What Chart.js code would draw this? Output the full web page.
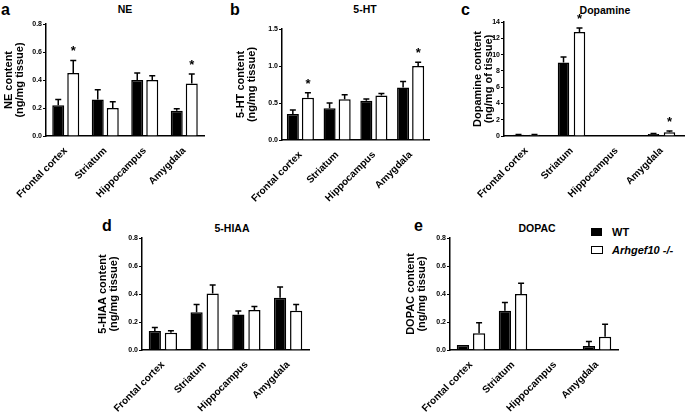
<!DOCTYPE html>
<html>
<head>
<meta charset="utf-8">
<script src="https://cdn.jsdelivr.net/npm/chart.js@4.4.1/dist/chart.umd.min.js"></script>
<style>
  html, body { margin: 0; padding: 0; background: #fff; overflow: hidden; }
  body { width: 685px; height: 412px; position: relative; font-family: "Liberation Sans", Arial, sans-serif; }
  canvas { position: absolute; }
  .lbl { position: absolute; font-weight: bold; color: #000; white-space: nowrap; line-height: 1; }
  .ttl { font-size: 10.5px; transform: translate(-50%, -50%); }
  .let { font-size: 16px; }
  .box { position: absolute; width: 11px; height: 8px; border: 1.5px solid #000; box-sizing: border-box; }
</style>
</head>
<body>
<div class="lbl let" style="left:1px;top:2px">a</div>
<div class="lbl let" style="left:230px;top:2px">b</div>
<div class="lbl let" style="left:461px;top:2px">c</div>
<div class="lbl let" style="left:102px;top:218px">d</div>
<div class="lbl let" style="left:414px;top:218px">e</div>

<div class="lbl ttl" style="left:125px;top:9px">NE</div>
<div class="lbl ttl" style="left:365px;top:9px">5-HT</div>
<div class="lbl ttl" style="left:605px;top:10px">Dopamine</div>
<div class="lbl ttl" style="left:232px;top:228px">5-HIAA</div>
<div class="lbl ttl" style="left:537px;top:228px">DOPAC</div>

<div class="box" style="left:591px;top:228px;background:#000"></div>
<div class="box" style="left:591px;top:246px;background:#fff;width:12px"></div>
<div class="lbl" style="left:612px;top:227px;font-size:11px">WT</div>
<div class="lbl" style="left:612px;top:245px;font-size:11px"><i>Arhgef10 -/-</i></div>

<canvas id="cNE" width="203" height="205" style="left:2px;top:0"></canvas>
<canvas id="c5HT" width="196" height="205" style="left:234px;top:0"></canvas>
<canvas id="cDA" width="214" height="205" style="left:471px;top:0"></canvas>
<canvas id="c5HIAA" width="214" height="212" style="left:96px;top:200px"></canvas>
<canvas id="cDOPAC" width="215" height="212" style="left:404px;top:200px"></canvas>

<script>
const regions = ["Frontal cortex", "Striatum", "Hippocampus", "Amygdala"];

// NE
const neWT = [0.22, 0.26, 0.40, 0.18];
const neWTErr = [0.04, 0.07, 0.05, 0.015];
const neKO = [0.45, 0.20, 0.40, 0.375];
const neKOErr = [0.09, 0.045, 0.03, 0.068];
const neStar = [true, false, false, true];

// 5-HT
const htWT = [0.35, 0.43, 0.53, 0.71];
const htWTErr = [0.055, 0.07, 0.025, 0.08];
const htKO = [0.57, 0.55, 0.60, 1.0];
const htKOErr = [0.07, 0.06, 0.03, 0.05];
const htStar = [true, false, false, true];

// Dopamine
const daWT = [0.15, 9.03, null, 0.25];
const daWTErr = [0.03, 0.66, null, 0.05];
const daKO = [0.15, 12.77, null, 0.45];
const daKOErr = [0.03, 0.5, null, 0.15];
const daStar = [false, true, false, true];

// 5-HIAA
const hiaaWT = [0.135, 0.27, 0.254, 0.373];
const hiaaWTErr = [0.025, 0.055, 0.024, 0.077];
const hiaaKO = [0.123, 0.404, 0.285, 0.28];
const hiaaKOErr = [0.015, 0.06, 0.025, 0.045];
const hiaaStar = [false, false, false, false];

// DOPAC
const dopacWT = [0.036, 0.28, null, 0.029];
const dopacWTErr = [0, 0.06, null, 0.031];
const dopacKO = [0.12, 0.40, null, 0.095];
const dopacKOErr = [0.075, 0.077, null, 0.089];
const dopacStar = [false, false, false, false];

const FONT = "'Liberation Sans', Arial, sans-serif";

// error bars (upper only) and significance stars
const errorBars = {
  id: "errorBars",
  afterDatasetsDraw(chart) {
    const ctx = chart.ctx;
    const y = chart.scales.y;
    ctx.save();
    ctx.strokeStyle = "#000";
    ctx.lineWidth = 1.5;
    chart.data.datasets.forEach((ds, di) => {
      const meta = chart.getDatasetMeta(di);
      meta.data.forEach((bar, i) => {
        const v = ds.data[i], e = ds.err[i];
        if (v == null) return;
        const top = y.getPixelForValue(v + (e || 0));
        if (e) {
          ctx.beginPath();
          ctx.moveTo(bar.x, y.getPixelForValue(v));
          ctx.lineTo(bar.x, top);
          ctx.moveTo(bar.x - 3, top);
          ctx.lineTo(bar.x + 3, top);
          ctx.stroke();
        }
        if (ds.star && ds.star[i]) {
          ctx.fillStyle = "#000";
          ctx.font = "bold 13px " + FONT;
          ctx.textAlign = "center";
          ctx.textBaseline = "alphabetic";
          ctx.fillText("*", bar.x, top - 5);
        }
      });
    });
    ctx.restore();
  }
};

function panel(id, opt) {
  new Chart(document.getElementById(id), {
    type: "bar",
    data: {
      labels: regions,
      datasets: [
        { label: "WT", data: opt.wt, err: opt.wtErr, backgroundColor: "#000", borderColor: "#000", borderWidth: 1.5 },
        { label: "Arhgef10 -/-", data: opt.ko, err: opt.koErr, star: opt.star, backgroundColor: "#fff", borderColor: "#000", borderWidth: 1.5 }
      ]
    },
    options: {
      responsive: false,
      animation: false,
      devicePixelRatio: 1,
      categoryPercentage: opt.cat,
      barPercentage: opt.bar,
      layout: { padding: { top: opt.padTop, right: 1, left: 0, bottom: 0 } },
      plugins: { legend: { display: false }, tooltip: { enabled: false } },
      scales: {
        x: {
          grid: { display: false },
          border: { display: true, color: "#000", width: 1.5 },
          ticks: {
            color: "#000", autoSkip: false, minRotation: 45, maxRotation: 45, padding: 1,
            font: { family: FONT, size: 10, weight: "bold" }
          },
          afterFit: s => { s.height = opt.xH; }
        },
        y: {
          min: 0, max: opt.max,
          grid: { drawOnChartArea: false, color: "#000", tickLength: 3, lineWidth: 1 },
          border: { display: true, color: "#000", width: 1.5 },
          ticks: {
            color: "#000", stepSize: opt.step, padding: 1,
            font: { family: FONT, size: 7, weight: "bold" },
            callback: v => v.toFixed(opt.dec)
          },
          title: {
            display: true, text: opt.title, color: "#000",
            font: { family: FONT, size: 11, weight: "bold", lineHeight: 1.0 },
            padding: { top: 1, bottom: 0 }
          },
          afterFit: s => { s.width = opt.yW; }
        }
      }
    },
    plugins: [errorBars]
  });
}

panel("cNE", { wt: neWT, wtErr: neWTErr, ko: neKO, koErr: neKOErr, star: neStar,
  max: 0.8, step: 0.2, dec: 1, title: ["NE content", "(ng/mg tissue)"],
  yW: 44, xH: 69, padTop: 24, cat: 0.76, bar: 0.8 });

panel("c5HT", { wt: htWT, wtErr: htWTErr, ko: htKO, koErr: htKOErr, star: htStar,
  max: 1.5, step: 0.5, dec: 1, title: ["5-HT content", "(ng/mg tissue)"],
  yW: 48, xH: 65, padTop: 29, cat: 0.82, bar: 0.8 });

panel("cDA", { wt: daWT, wtErr: daWTErr, ko: daKO, koErr: daKOErr, star: daStar,
  max: 14, step: 2, dec: 0, title: ["Dopamine content", "(ng/mg of tissue)"],
  yW: 33, xH: 69, padTop: 22, cat: 0.71, bar: 0.72 });

panel("c5HIAA", { wt: hiaaWT, wtErr: hiaaWTErr, ko: hiaaKO, koErr: hiaaKOErr, star: hiaaStar,
  max: 0.8, step: 0.2, dec: 1, title: ["5-HIAA content", "(ng/mg tissue)"],
  yW: 46, xH: 62, padTop: 38, cat: 0.77, bar: 0.76 });

panel("cDOPAC", { wt: dopacWT, wtErr: dopacWTErr, ko: dopacKO, koErr: dopacKOErr, star: dopacStar,
  max: 0.8, step: 0.2, dec: 1, title: ["DOPAC content", "(ng/mg tissue)"],
  yW: 46, xH: 62, padTop: 38, cat: 0.77, bar: 0.76 });
</script>
</body>
</html>
